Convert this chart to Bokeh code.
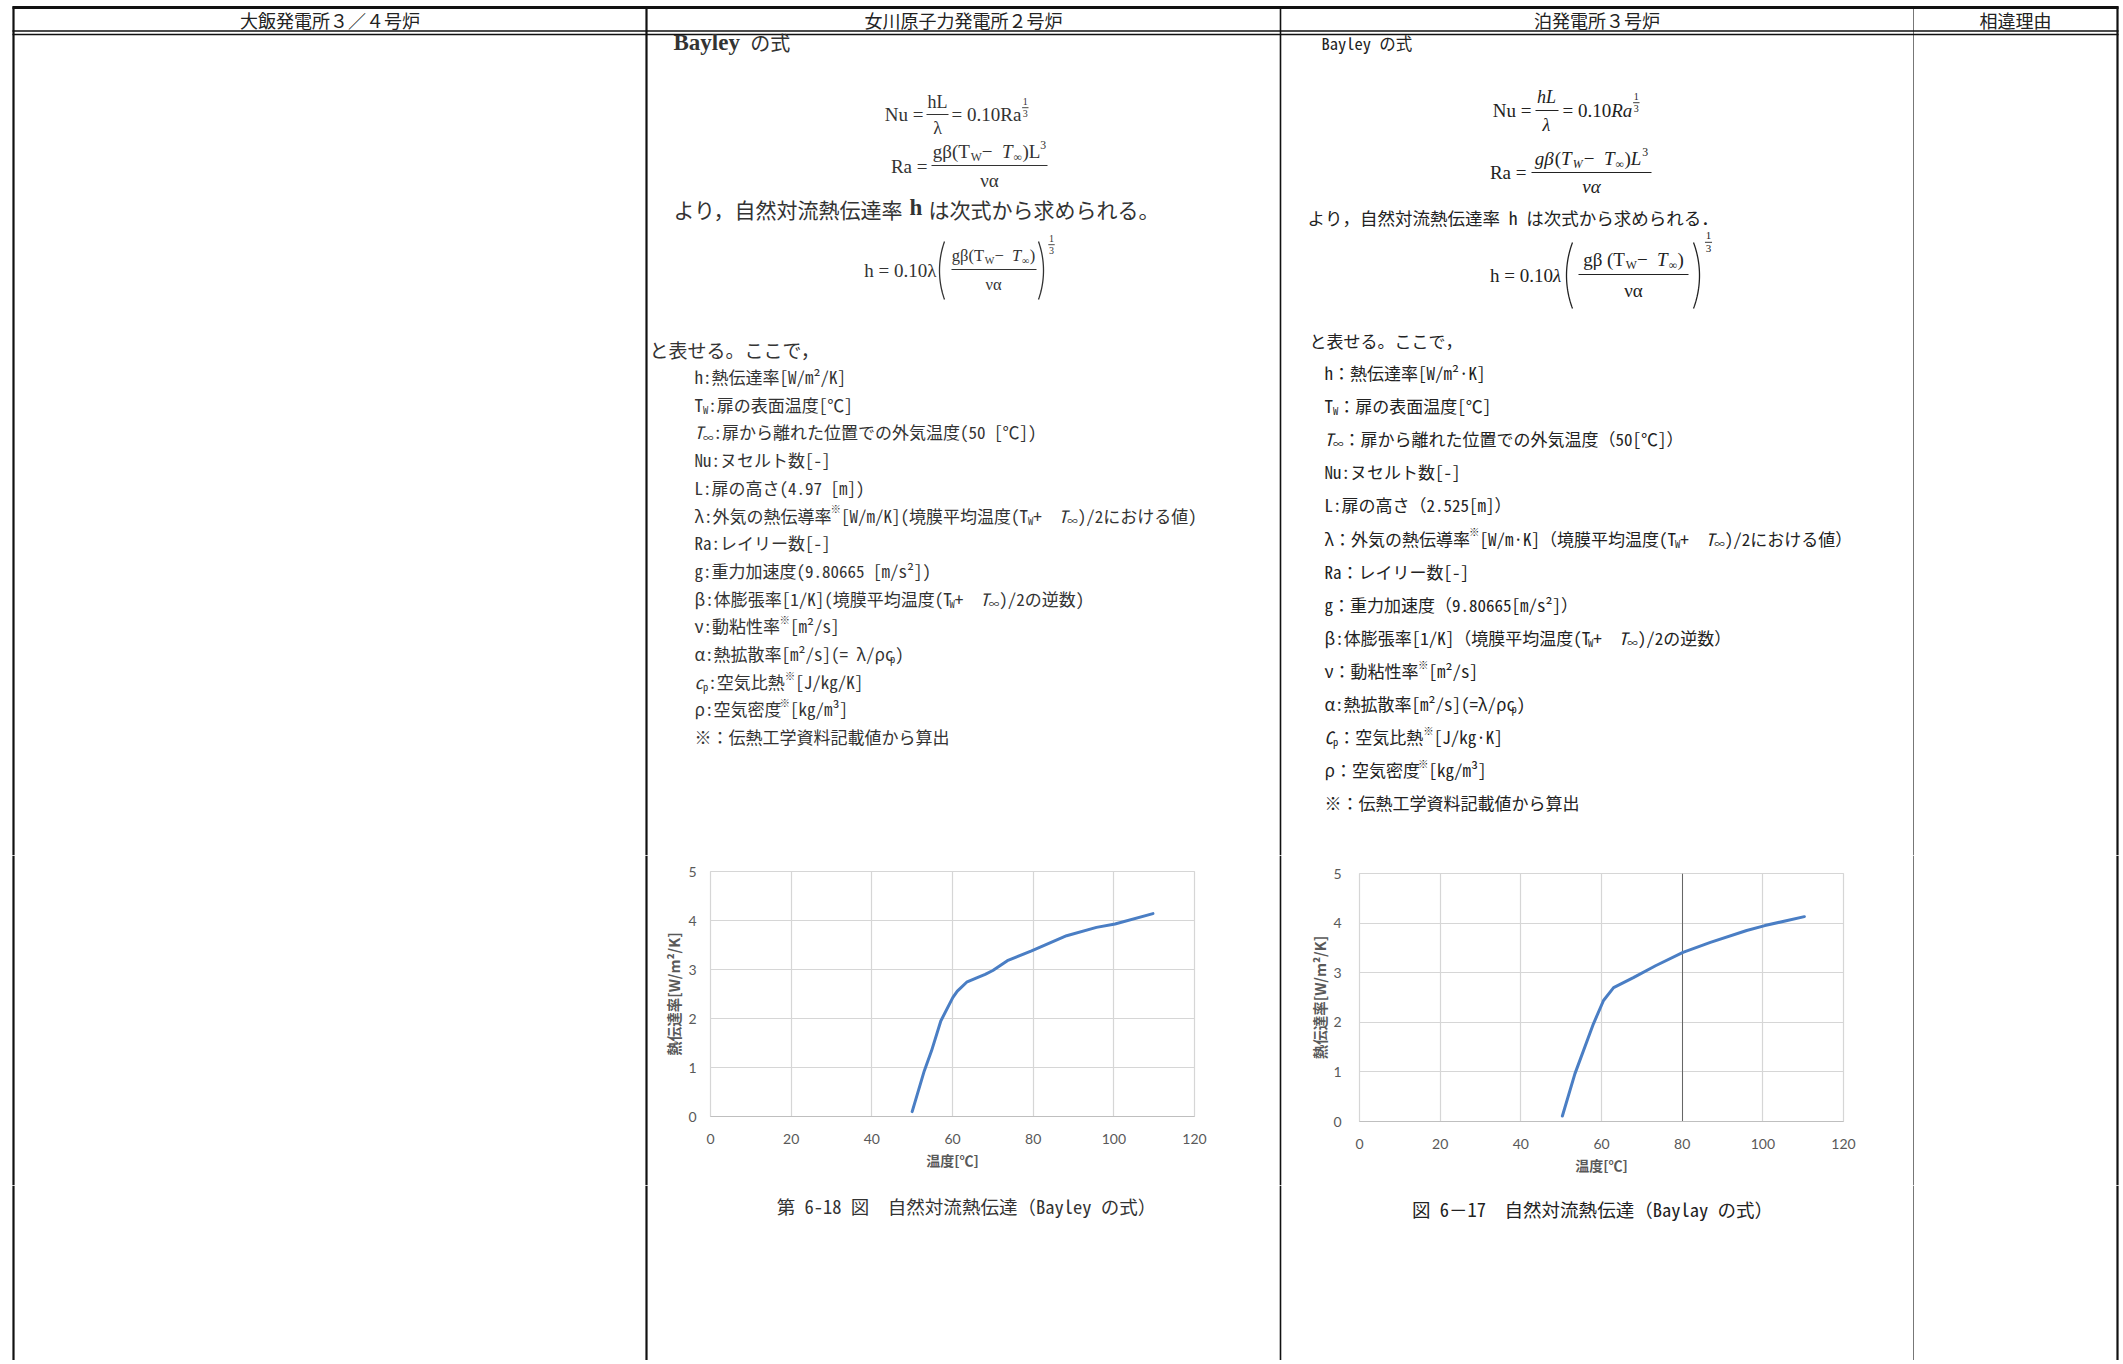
import numpy as np
from bokeh.plotting import figure
from bokeh.layouts import column, row
from bokeh.models import Range1d, FixedTicker, Grid
from bokeh.core.properties import value
from bokeh.embed import file_html
from bokeh.resources import INLINE

# ---------------- data ----------------
HEADERS = ["大飯発電所３／４号炉", "女川原子力発電所２号炉", "泊発電所３号炉", "相違理由"]
X_TICKS = [0, 20, 40, 60, 80, 100, 120]
Y_TICKS = [0, 1, 2, 3, 4, 5]
DARK_GRID_X_TOMARI = [80]
X_TITLE = "温度[℃]"
Y_TITLE = "熱伝達率[W/m²/K]"
ONAGAWA_TEMP = [50.0, 53.0, 54.8, 57.1, 60.1, 61.2, 63.5, 66.0, 68.1, 70.0, 73.6, 79.6, 88.3, 95.7, 100.3, 109.7]
ONAGAWA_HTC = [0.10, 0.93, 1.34, 1.95, 2.43, 2.56, 2.74, 2.83, 2.90, 2.98, 3.18, 3.38, 3.69, 3.86, 3.93, 4.14]
TOMARI_TEMP = [50.3, 53.4, 58.0, 60.5, 63.0, 67.9, 73.4, 80.2, 87.0, 96.0, 100.5, 110.3]
TOMARI_HTC = [0.11, 0.96, 1.97, 2.44, 2.70, 2.90, 3.14, 3.41, 3.61, 3.85, 3.95, 4.13]
CAPTIONS = ["第 6-18 図　自然対流熱伝達（Bayley の式）", "図 6－17　自然対流熱伝達（Baylay の式）"]

# ---------------- style / geometry ----------------
JP = "Noto Sans CJK JP"
MONO = "Noto Sans Mono CJK JP"
SERIF = "Liberation Serif"
INK2 = "#333333"
INK3 = "#222222"
LINE_BLUE = "#4A7EC4"
GRID = "#d6d6d6"
TICK_C = "#595959"

PX0, PX1 = 0, 2120
COL_X = [13, 646, 1280, 1913, 2117]
COL_W = [2.2, 2.2, 1.6, 1.0, 2.2]
COL_C = ["#111111", "#111111", "#111111", "#777777", "#111111"]
TABLE_TOP = 6
BAND_A = (0, 855)
BAND_B = (855, 1185)
BAND_C = (1185, 1360)

TW = {' ': .25, '(': .333, ')': .333, '.': .25, '/': .278, '=': .564, '−': .564, '+': .564,
      '0': .5, '1': .5, '3': .5, 'N': .722, 'R': .667, 'T': .611, 'L': .611, 'W': .944,
      'a': .444, 'g': .5, 'h': .5, 'u': .5, 'β': .55, 'λ': .55, 'α': .55, 'ν': .5, '∞': .75}


def serif_em(s):
    return sum(TW.get(c, .5) for c in s)


def mono_em(s):
    return sum(1.0 if ord(c) >= 0x2000 else 0.5 for c in s)


def txt(p, x, y, s, size, font, align="left", color=INK3, style="normal"):
    p.text(x=[x], y=[y], text=[s], text_font=value(font), text_font_size=f"{size:.2f}px",
           text_align=align, text_baseline="middle", text_color=color, text_font_style=style)


def seg(p, x0, y0, x1, y1, color="#111111", lw=1.0):
    p.segment(x0=[x0], y0=[y0], x1=[x1], y1=[y1], line_color=color, line_width=lw)


def rich(p, x, y, pieces, size, font, color, wf, align="left"):
    specs = []
    total = 0.0
    for s, kind in pieces:
        small = kind in ("sub", "subit", "sup")
        fs = size * (0.62 if small else 1.0)
        dy = size * 0.30 if kind in ("sub", "subit") else (-size * 0.36 if kind == "sup" else 0.0)
        style = "italic" if kind in ("it", "subit") else ("bold" if kind == "b" else "normal")
        w = wf(s) * fs
        specs.append((s, fs, dy, style, w))
        total += w
    cx = x - total / 2 if align == "center" else (x - total if align == "right" else x)
    for s, fs, dy, style, w in specs:
        txt(p, cx, y + dy, s, fs, font, "left", color, style)
        cx += w
    return cx


def paren(p, x, yc, h, left, color, s=5.0, lw=1.3):
    R = (h * h / 4 + s * s) / (2 * s)
    a = np.arcsin((h / 2) / R)
    th = np.linspace(-a, a, 40)
    if left:
        xs = (x + R) - R * np.cos(th)
    else:
        xs = (x - R) + R * np.cos(th)
    ys = yc + R * np.sin(th)
    p.line(xs, ys, line_color=color, line_width=lw)


def sfrac(p, x, ytop, size, font, color):
    txt(p, x, ytop, "1", size, font, "center", color)
    seg(p, x - size * 0.32, ytop + size * 0.62, x + size * 0.32, ytop + size * 0.62, color, 0.9)
    txt(p, x, ytop + size * 1.22, "3", size, font, "center", color)


def page_fig(x0, x1, y0, y1):
    p = figure(width=x1 - x0, height=y1 - y0, x_range=Range1d(x0, x1), y_range=Range1d(y1, y0),
               output_backend="svg", toolbar_location=None, x_axis_location=None, y_axis_location=None,
               min_border=0, outline_line_color=None, background_fill_color="white",
               border_fill_color="white", frame_align=False)
    p.grid.visible = False
    for x, lw, c in zip(COL_X, COL_W, COL_C):
        if x0 <= x <= x1:
            seg(p, x, max(y0, TABLE_TOP), x, y1, c, lw)
    return p


def chart(xs, ys, fx0, fx1, frame_l, frame_r, frame_t, frame_b, ylab_std, ytitle_std, dark_x=None):
    p = figure(width=fx1 - fx0, height=BAND_B[1] - BAND_B[0], x_range=Range1d(0, 120), y_range=Range1d(0, 5),
               output_backend="svg", toolbar_location=None,
               min_border_left=frame_l - fx0, min_border_right=fx1 - frame_r,
               min_border_top=frame_t - BAND_B[0], min_border_bottom=BAND_B[1] - frame_b,
               background_fill_color="white", border_fill_color="white", frame_align=False)
    p.xaxis.ticker = FixedTicker(ticks=X_TICKS)
    p.yaxis.ticker = FixedTicker(ticks=Y_TICKS)
    p.xgrid.ticker = FixedTicker(ticks=X_TICKS)
    p.ygrid.ticker = FixedTicker(ticks=Y_TICKS)
    p.grid.grid_line_color = GRID
    p.grid.grid_line_width = 1.2
    if dark_x:
        p.add_layout(Grid(dimension=0, ticker=FixedTicker(ticks=dark_x), grid_line_color="#666666",
                          grid_line_width=1.0))
    p.line(xs, ys, line_color=LINE_BLUE, line_width=3, line_join="round", line_cap="round")
    p.outline_line_color = GRID
    p.outline_line_width = 1.2
    p.xaxis.axis_line_color = "#bfbfbf"
    p.yaxis.axis_line_color = None
    for ax in (p.xaxis, p.yaxis):
        ax.major_tick_line_color = None
        ax.minor_tick_line_color = None
        ax.major_label_text_font = "Lato"
        ax.major_label_text_font_size = "14px"
        ax.major_label_text_color = TICK_C
        ax.axis_label_text_font = JP
        ax.axis_label_text_font_style = "bold"
        ax.axis_label_text_color = TICK_C
    p.xaxis.axis_label_text_font_size = "14px"
    p.yaxis.axis_label_text_font_size = "14.5px"
    p.xaxis.axis_label = X_TITLE
    p.yaxis.axis_label = Y_TITLE
    p.yaxis.major_label_standoff = ylab_std
    p.yaxis.axis_label_standoff = ytitle_std
    p.xaxis.major_label_standoff = 11
    p.xaxis.axis_label_standoff = 3
    return p


# ---------------- band A: header + texts ----------------
A = page_fig(PX0, PX1, BAND_A[0], BAND_A[1])
seg(A, 12, TABLE_TOP + 1, PX1 - 2, TABLE_TOP + 1, "#111111", 3)
seg(A, 12, 30.5, PX1 - 2, 30.5, "#111111", 1.6)
seg(A, 12, 34.0, PX1 - 2, 34.0, "#111111", 1.6)
centers = [(COL_X[i] + COL_X[i + 1]) / 2 for i in range(4)]
for cx, h in zip(centers, HEADERS):
    txt(A, cx, 19, h, 18, JP, "center", INK3)

# ---- column 2 (女川) ----
txt(A, 673, 42, "Bayley", 23, SERIF, "left", INK2, "bold")
txt(A, 673 + serif_em("Bayley") * 24 + 6, 42, "の式", 20, JP, "left", INK2)

# Nu = hL/λ = 0.10Ra^(1/3)
y = 114
txt(A, 923, y, "Nu =", 19, SERIF, "right", INK2)
txt(A, 937, y - 13, "hL", 18, SERIF, "center", INK2)
seg(A, 926, y, 948, y, INK2, 1.1)
txt(A, 937, y + 13, "λ", 18, SERIF, "center", INK2)
e = rich(A, 951, y, [("= 0.10Ra", "n")], 19, SERIF, INK2, serif_em)
sfrac(A, e + 4, y - 13, 10, SERIF, INK2)

# Ra = gβ(Tw − T∞)L³ / να
y = 166
txt(A, 927, y, "Ra =", 19, SERIF, "right", INK2)
seg(A, 931, y - 1, 1047, y - 1, INK2, 1.1)
rich(A, 989, y - 15, [("gβ(T", "n"), ("W", "sub"), (" − ", "n"), ("T", "it"), ("∞", "sub"), (")L", "n"), ("3", "sup")],
     19, SERIF, INK2, serif_em, "center")
txt(A, 989, y + 14, "να", 19, SERIF, "center", INK2)

# より line
x = 673
txt(A, x, 208, "より，自然対流熱伝達率", 21, JP, "left", INK2)
txt(A, x + 11 * 21 + 5, 207, "h", 23, SERIF, "left", INK2, "bold")
txt(A, x + 11 * 21 + 24, 208, "は次式から求められる。", 21, JP, "left", INK2)

# h = 0.10λ( gβ(Tw − T∞) / να )^(1/3)
yc = 270
txt(A, 936, yc, "h = 0.10λ", 19, SERIF, "right", INK2)
paren(A, 939, yc, 58, True, INK2, 5)
seg(A, 951, yc - 1, 1036, yc - 1, INK2, 1.1)
rich(A, 993, yc - 15, [("gβ(T", "n"), ("W", "sub"), (" − ", "n"), ("T", "it"), ("∞", "sub"), (")", "n")],
     16.5, SERIF, INK2, serif_em, "center")
txt(A, 993, yc + 14, "να", 16.5, SERIF, "center", INK2)
paren(A, 1043, yc, 58, False, INK2, 5)
sfrac(A, 1051, yc - 32, 10, SERIF, INK2)

txt(A, 649, 349, "と表せる。ここで，", 19, JP, "left", INK2)

N, S, I, U = "n", "sub", "it", "sup"
LIST2 = [
    [("h:熱伝達率[W/m²/K]", N)],
    [("T", N), ("W", S), (":扉の表面温度[℃]", N)],
    [("T", I), ("∞", S), (":扉から離れた位置での外気温度(50 [℃])", N)],
    [("Nu:ヌセルト数[-]", N)],
    [("L:扉の高さ(4.97 [m])", N)],
    [("λ:外気の熱伝導率", N), ("※", U), ("[W/m/K](境膜平均温度(T", N), ("W", S), (" + ", N), ("T", I), ("∞", S), (")/2における値)", N)],
    [("Ra:レイリー数[-]", N)],
    [("g:重力加速度(9.80665 [m/s²])", N)],
    [("β:体膨張率[1/K](境膜平均温度(T", N), ("W", S), (" + ", N), ("T", I), ("∞", S), (")/2の逆数)", N)],
    [("ν:動粘性率", N), ("※", U), ("[m²/s]", N)],
    [("α:熱拡散率[m²/s](= λ/ρc", N), ("p", S), (")", N)],
    [("c", I), ("p", S), (":空気比熱", N), ("※", U), ("[J/kg/K]", N)],
    [("ρ:空気密度", N), ("※", U), ("[kg/m³]", N)],
    [("※：伝熱工学資料記載値から算出", N)],
]
for i, pcs in enumerate(LIST2):
    rich(A, 694, 376 + 27.7 * i, pcs, 17, MONO, INK2, mono_em)

# ---- column 3 (泊) ----
txt(A, 1321, 42, "Bayley の式", 16.5, MONO, "left", INK3)

dx = -30
txt(A, 1561 + dx, 110, "Nu =", 19, SERIF, "right", INK3)
txt(A, 1576 + dx, 96, "hL", 18, SERIF, "center", INK3, "italic")
seg(A, 1565 + dx, 110, 1588 + dx, 110, INK3, 1.1)
txt(A, 1576 + dx, 124, "λ", 18, SERIF, "center", INK3, "italic")
e = rich(A, 1592 + dx, 110, [("= 0.10", "n"), ("Ra", "it")], 19, SERIF, INK3, serif_em)
sfrac(A, e + 4, 96, 10, SERIF, INK3)

txt(A, 1556 + dx, 172, "Ra =", 19, SERIF, "right", INK3)
seg(A, 1561 + dx, 172, 1681 + dx, 172, INK3, 1.1)
rich(A, 1621 + dx, 158, [("gβ", "it"), ("(", "n"), ("T", "it"), ("W", "subit"), (" − ", "n"), ("T", "it"), ("∞", "sub"),
                         (")", "n"), ("L", "it"), ("3", "sup")], 19, SERIF, INK3, serif_em, "center")
txt(A, 1621 + dx, 186, "να", 19, SERIF, "center", INK3, "italic")

txt(A, 1307, 217, "より，自然対流熱伝達率 h は次式から求められる．", 17.5, MONO, "left", INK3)

yc3 = 275
rich(A, 1563, yc3, [("h = 0.10", "n"), ("λ", "it")], 19, SERIF, INK3, serif_em, "right")
paren(A, 1566, yc3, 66, True, INK3, 6)
seg(A, 1578, yc3 - 1, 1688, yc3 - 1, INK3, 1.1)
rich(A, 1633, yc3 - 16, [("gβ (T", "n"), ("W", "sub"), (" − ", "n"), ("T", "it"), ("∞", "sub"), (")", "n")],
     19, SERIF, INK3, serif_em, "center")
txt(A, 1633, yc3 + 15, "να", 19, SERIF, "center", INK3)
paren(A, 1699, yc3, 66, False, INK3, 6)
sfrac(A, 1708, yc3 - 40, 11, SERIF, INK3)

txt(A, 1309, 340, "と表せる。ここで，", 17, MONO, "left", INK3)

LIST3 = [
    [("h：熱伝達率[W/m²·K]", N)],
    [("T", N), ("W", S), ("：扉の表面温度[℃]", N)],
    [("T", I), ("∞", S), ("：扉から離れた位置での外気温度（50[℃]）", N)],
    [("Nu:ヌセルト数[-]", N)],
    [("L:扉の高さ（2.525[m]）", N)],
    [("λ：外気の熱伝導率", N), ("※", U), ("[W/m·K]（境膜平均温度(T", N), ("W", S), (" + ", N), ("T", I), ("∞", S), (")/2における値）", N)],
    [("Ra：レイリー数[-]", N)],
    [("g：重力加速度（9.80665[m/s²]）", N)],
    [("β:体膨張率[1/K]（境膜平均温度(T", N), ("W", S), (" + ", N), ("T", I), ("∞", S), (")/2の逆数）", N)],
    [("ν：動粘性率", N), ("※", U), ("[m²/s]", N)],
    [("α:熱拡散率[m²/s](=λ/ρc", N), ("p", S), (")", N)],
    [("C", I), ("p", S), ("：空気比熱", N), ("※", U), ("[J/kg·K]", N)],
    [("ρ：空気密度", N), ("※", U), ("[kg/m³]", N)],
    [("※：伝熱工学資料記載値から算出", N)],
]
for i, pcs in enumerate(LIST3):
    rich(A, 1324, 372 + 33.1 * i, pcs, 17, MONO, INK3, mono_em)

# ---------------- band B: charts ----------------
F0 = page_fig(PX0, 660, BAND_B[0], BAND_B[1])
C1 = chart(ONAGAWA_TEMP, ONAGAWA_HTC, 660, 1220, 707, 1194, 871, 1116, 8, 1)
F1 = page_fig(1220, 1300, BAND_B[0], BAND_B[1])
C2 = chart(TOMARI_TEMP, TOMARI_HTC, 1300, 1870, 1359, 1843, 873, 1121, 12, 0, DARK_GRID_X_TOMARI)
F2 = page_fig(1870, PX1, BAND_B[0], BAND_B[1])

# ---------------- band C: captions ----------------
Cc = page_fig(PX0, PX1, BAND_C[0], BAND_C[1])
txt(Cc, 966, 1205, CAPTIONS[0], 18.5, MONO, "center", INK2)
txt(Cc, 1592, 1208, CAPTIONS[1], 18.5, MONO, "center", INK3)

layout = column(A, row(F0, C1, F1, C2, F2, spacing=0), Cc, spacing=0)

open("out.html", "w").write(file_html(layout, INLINE))
